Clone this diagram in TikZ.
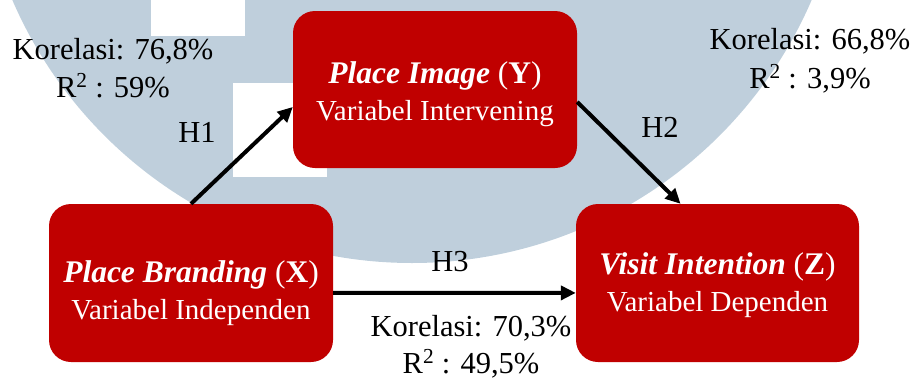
\documentclass[tikz,border=0pt]{standalone}
\usepackage{fontspec}
\setmainfont{Liberation Serif}
\usetikzlibrary{arrows.meta,calc}

\definecolor{boxred}{HTML}{C00000}
\definecolor{logogray}{HTML}{BFCFDC}

% title line of a box, #3 = strut height that pushes the text down
\newcommand{\vartitle}[3]{\rule{0pt}{#3}{\fontsize{31.5}{37}\selectfont\textbf{\textit{#1}} (\textbf{#2})}}

\tikzset{
  varbox/.style={fill=boxred, rounded corners=22pt, minimum width=284pt, minimum height=158pt,
    text=white, align=center, inner sep=0pt, font=\fontsize{29}{37}\selectfont},
  hyparrow/.style={line width=4pt, -{Triangle[length=15pt,width=14pt]}},
  statlabel/.style={anchor=base, inner sep=0pt, font=\fontsize{30.5}{38}\selectfont},
}

\begin{document}
\begin{tikzpicture}[x=1pt,y=-1pt]
\useasboundingbox (0,0) rectangle (915,378);

% watermark logo
\begin{scope}
\clip (0,0) rectangle (915,378);
\fill[logogray] (412,-172) circle (435pt);
\fill[white] (151,0) rectangle (245,36);
\fill[white] (233,83) rectangle (327,177);
\end{scope}

% variable boxes
\node[varbox, minimum height=157pt] (image) at (435,89.5) {\vartitle{Place Image}{Y}{32pt}\\Variabel Intervening};
\node[varbox] (branding) at (191,283) {\vartitle{Place Branding}{X}{42pt}\\Variabel Independen};
\node[varbox, minimum width=283pt] (visit) at (717.5,283) {\vartitle{Visit Intention}{Z}{27pt}\\Variabel Dependen};

% hypothesis arrows
\draw[hyparrow] (branding.north) -- (image.187);
\draw[hyparrow] (image.-5) -- (visit.115);
\draw[hyparrow] (branding.-4) -- (visit.184);

\node[statlabel] (h1) at (197,142) {H1};
\node[statlabel] (h2) at (660,137) {H2};
\node[statlabel] (h3) at (450,271) {H3};

% correlation labels
\node[statlabel] (kor1) at (113,59) {Korelasi: 76,8\%};
\node[statlabel] (rsq1) at (113,97) {R\textsuperscript{2} : 59\%};

\node[statlabel] (kor2) at (810,49) {Korelasi: 66,8\%};
\node[statlabel] (rsq2) at (810,88) {R\textsuperscript{2} : 3,9\%};

\node[statlabel] (kor3) at (471,336) {Korelasi: 70,3\%};
\node[statlabel] (rsq3) at (471,373) {R\textsuperscript{2} : 49,5\%};

\end{tikzpicture}
\end{document}
